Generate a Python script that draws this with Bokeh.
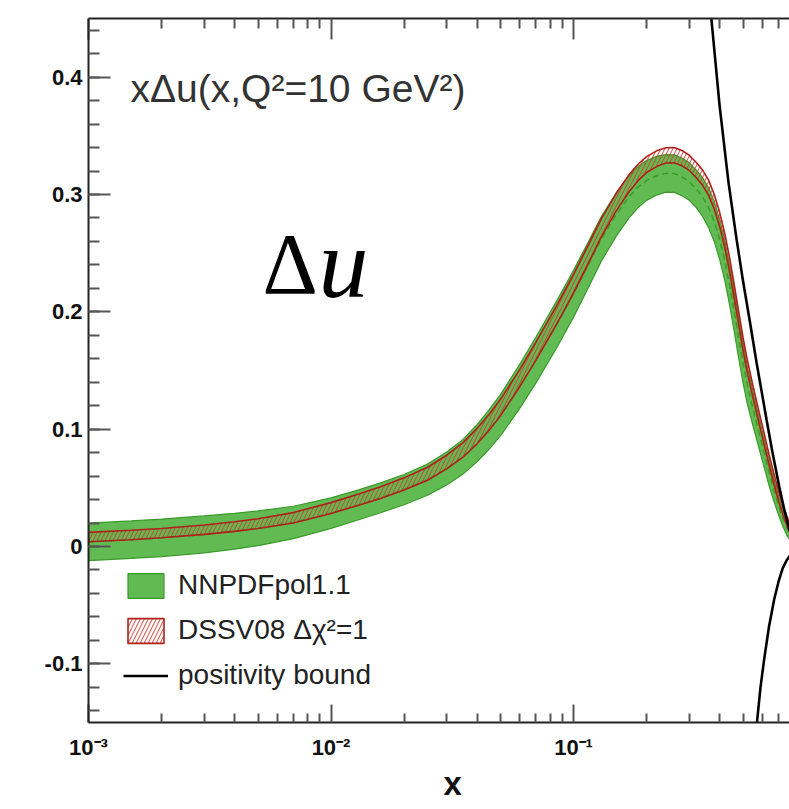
from bokeh.plotting import figure
from bokeh.models import (FixedTicker, CustomJSTickFormatter, LogAxis, Label, Title,
                          Legend, LegendItem, ColumnDataSource)
from bokeh.embed import file_html
from bokeh.resources import INLINE

# ---- data ----
x_vals = [0.001, 0.0015, 0.002, 0.003, 0.004, 0.005, 0.007, 0.01, 0.013, 0.016,
          0.02, 0.025, 0.03, 0.035, 0.04, 0.045, 0.05, 0.06, 0.07, 0.085,
          0.1, 0.115, 0.13, 0.15, 0.17, 0.185, 0.2, 0.22, 0.24,
          0.26, 0.28, 0.30, 0.32, 0.34, 0.36, 0.38, 0.40, 0.42, 0.44,
          0.46, 0.48, 0.50, 0.52, 0.55, 0.58, 0.61, 0.64, 0.67, 0.70,
          0.73, 0.76, 0.80]
# NNPDFpol1.1: central value and one-sigma half width
nnpdf_mid = [0.004, 0.0058, 0.0074, 0.0103, 0.013, 0.0155, 0.0205, 0.0285, 0.0355, 0.0415,
             0.0485, 0.057, 0.0665, 0.0765, 0.088, 0.100, 0.112, 0.1365, 0.159, 0.189,
             0.2155, 0.240, 0.262, 0.283, 0.2985, 0.3065, 0.312, 0.316, 0.318,
             0.3178, 0.315, 0.311, 0.305, 0.298, 0.289, 0.277, 0.262, 0.244, 0.223,
             0.200, 0.177, 0.156, 0.138, 0.117, 0.098, 0.080, 0.063, 0.048, 0.035,
             0.024, 0.015, 0.006]
nnpdf_err = [0.016, 0.016, 0.016, 0.0158, 0.0153, 0.0148, 0.0138, 0.013, 0.0127, 0.0127,
             0.0129, 0.0133, 0.014, 0.0148, 0.0158, 0.0168, 0.0176, 0.0188, 0.0195, 0.020,
             0.020, 0.0195, 0.019, 0.0185, 0.018, 0.0175, 0.017, 0.0165, 0.016,
             0.016, 0.016, 0.016, 0.016, 0.0165, 0.017, 0.017, 0.017, 0.017, 0.017,
             0.017, 0.017, 0.0165, 0.016, 0.0145, 0.013, 0.012, 0.011, 0.0095, 0.008,
             0.007, 0.006, 0.004]
# DSSV08 (delta chi2 = 1): central value and half width
dssv_mid = [0.008, 0.0098, 0.0114, 0.0143, 0.017, 0.0195, 0.0245, 0.0328, 0.040, 0.046,
            0.0533, 0.062, 0.072, 0.0823, 0.094, 0.1062, 0.1185, 0.1435, 0.1665, 0.197,
            0.224, 0.249, 0.2715, 0.2935, 0.310, 0.319, 0.3255, 0.3305, 0.3333,
            0.3335, 0.331, 0.327, 0.321, 0.3145, 0.306, 0.294, 0.279, 0.261, 0.240,
            0.217, 0.194, 0.1725, 0.154, 0.1315, 0.111, 0.092, 0.074, 0.0575, 0.043,
            0.031, 0.021, 0.010]
dssv_err = [0.004, 0.004, 0.004, 0.004, 0.0041, 0.0042, 0.0044, 0.0046, 0.0048, 0.005,
            0.0052, 0.0055, 0.0058, 0.0062, 0.0065, 0.0068, 0.007, 0.0073, 0.0076, 0.0078,
            0.008, 0.008, 0.0078, 0.0075, 0.0072, 0.007, 0.0068, 0.0067, 0.0065,
            0.0065, 0.0065, 0.0065, 0.0065, 0.0065, 0.0065, 0.0062, 0.006, 0.006, 0.006,
            0.006, 0.0058, 0.0055, 0.0055, 0.005, 0.005, 0.005, 0.0045, 0.0045, 0.004,
            0.004, 0.004, 0.004]
# positivity bound (upper and lower branches)
bound_up_x = [0.33, 0.35, 0.37, 0.40, 0.435, 0.47, 0.50, 0.535, 0.568, 0.60,
              0.625, 0.66, 0.705, 0.74, 0.78]
bound_up_y = [0.56, 0.50, 0.45, 0.376, 0.311, 0.262, 0.226, 0.190, 0.157, 0.129,
              0.108, 0.081, 0.051, 0.031, 0.013]
bound_lo_x = [0.54, 0.555, 0.571, 0.59, 0.611, 0.64, 0.672, 0.70, 0.727, 0.755, 0.78]
bound_lo_y = [-0.20, -0.175, -0.149, -0.12, -0.096, -0.068, -0.045, -0.030, -0.019,
              -0.012, -0.008]

x_major = [0.001, 0.01, 0.1, 1.0]
x_minor = [m * d for d in (0.001, 0.01, 0.1) for m in range(2, 10)]
y_major = [-0.1, 0.0, 0.1, 0.2, 0.3, 0.4]
y_minor = [round(-0.14 + 0.02 * i, 2) for i in range(30)]

GREEN = "#62bb52"
GREEN_DARK = "#3a9a2a"
RED = "#b0201a"

p = figure(width=789, height=809, x_axis_type="log",
           x_range=(0.001, 0.777), y_range=(-0.15, 0.45),
           output_backend="svg", toolbar_location=None,
           min_border_left=88, min_border_right=0,
           min_border_top=18, min_border_bottom=87)
p.outline_line_color = None
p.xgrid.visible = False
p.ygrid.visible = False
p.background_fill_color = "white"
p.border_fill_color = "white"

band_x = x_vals + x_vals[::-1]

# green band
g_hi = [m + e for m, e in zip(nnpdf_mid, nnpdf_err)]
g_lo = [m - e for m, e in zip(nnpdf_mid, nnpdf_err)]
g_src = ColumnDataSource(dict(x=band_x, y=g_hi + g_lo[::-1]))
g_patch = p.patch("x", "y", source=g_src, fill_color=GREEN, fill_alpha=1.0,
                  line_color=GREEN_DARK, line_width=1.2)
p.line(x_vals, nnpdf_mid, line_color=GREEN_DARK, line_dash="6 4", line_width=1.5)

# red hatched band
r_hi = [m + e for m, e in zip(dssv_mid, dssv_err)]
r_lo = [m - e for m, e in zip(dssv_mid, dssv_err)]
r_src = ColumnDataSource(dict(x=band_x, y=r_hi + r_lo[::-1]))
r_patch = p.patch("x", "y", source=r_src, fill_alpha=0.0, line_color=RED,
                  line_width=1.6, hatch_pattern="/", hatch_color="#cc3a30",
                  hatch_alpha=0.75, hatch_scale=8, hatch_weight=1.2)

# positivity bounds
b_up = p.line(bound_up_x, bound_up_y, line_color="black", line_width=2.6)
p.line(bound_lo_x, bound_lo_y, line_color="black", line_width=2.6)

def style_axis(ax, major_in, minor_in):
    ax.axis_line_color = "#222222"
    ax.axis_line_width = 2
    ax.major_tick_in = major_in
    ax.major_tick_out = 0
    ax.minor_tick_in = minor_in
    ax.minor_tick_out = 0
    ax.major_tick_line_color = "#555555"
    ax.minor_tick_line_color = "#555555"
    ax.major_tick_line_width = 2
    ax.minor_tick_line_width = 2

xfmt = CustomJSTickFormatter(code="""
const e = Math.round(Math.log10(tick));
const sup = {'-3':'\u207b\u00b3', '-2':'\u207b\u00b2', '-1':'\u207b\u00b9', '0':'\u2070'};
return '10' + sup[String(e)];
""")
xa = p.xaxis[0]
xa.ticker = FixedTicker(ticks=x_major, minor_ticks=x_minor)
xa.formatter = xfmt
style_axis(xa, 18, 9)
xa.major_label_text_font = "Liberation Sans"
xa.major_label_text_font_style = "bold"
xa.major_label_text_font_size = "22px"
xa.major_label_text_color = "#111111"
xa.major_label_standoff = 12

ya = p.yaxis[0]
ya.ticker = FixedTicker(ticks=y_major, minor_ticks=y_minor)
ya.formatter = CustomJSTickFormatter(code="return Math.abs(tick) < 1e-9 ? '0' : tick.toFixed(1);")
style_axis(ya, 22, 11)
ya.major_label_text_font = "Liberation Sans"
ya.major_label_text_font_style = "bold"
ya.major_label_text_font_size = "22px"
ya.major_label_text_color = "#111111"
ya.major_label_standoff = 6

top = LogAxis(ticker=FixedTicker(ticks=x_major, minor_ticks=x_minor),
              formatter=CustomJSTickFormatter(code="return '';"))
style_axis(top, 21, 10)
top.major_label_text_font_size = "0px"
top.major_label_standoff = 0
p.add_layout(top, "above")

# x axis title, centred on the full 1e-3..1 decade span
p.add_layout(Title(text="x", align="left", offset=355, standoff=0,
                   text_font="Liberation Sans", text_font_size="33px",
                   text_font_style="bold", text_color="#111111"), "below")

# texts
p.add_layout(Label(x=0.00149, y=0.3906, text="x\u0394u(x,Q\u00b2=10 GeV\u00b2)",
                   text_font="Liberation Sans", text_font_size="39px",
                   text_color="#333333", text_baseline="alphabetic", text_align="left"))
p.add_layout(Label(x=0.00522, y=0.2409, text="\u0394", text_font="Liberation Serif",
                   text_font_size="86px", text_color="black",
                   text_baseline="alphabetic", text_align="left"))
p.add_layout(Label(x=0.00888, y=0.2409, text="u", text_font="Liberation Serif",
                   text_font_size="100px", text_font_style="italic", text_color="black",
                   text_baseline="alphabetic", text_align="left"))

legend = Legend(items=[LegendItem(label="NNPDFpol1.1", renderers=[g_patch]),
                       LegendItem(label="DSSV08 \u0394\u03c7\u00b2=1", renderers=[r_patch]),
                       LegendItem(label="positivity bound", renderers=[b_up])],
                location=(35, 31), padding=0, margin=0, spacing=13,
                glyph_width=45, glyph_height=31, label_height=31, label_standoff=10,
                label_text_font="Liberation Sans", label_text_font_size="28px",
                label_text_color="#222222", background_fill_alpha=0.0,
                border_line_alpha=0.0)
p.add_layout(legend)

open("out.html", "w").write(file_html(p, INLINE))
